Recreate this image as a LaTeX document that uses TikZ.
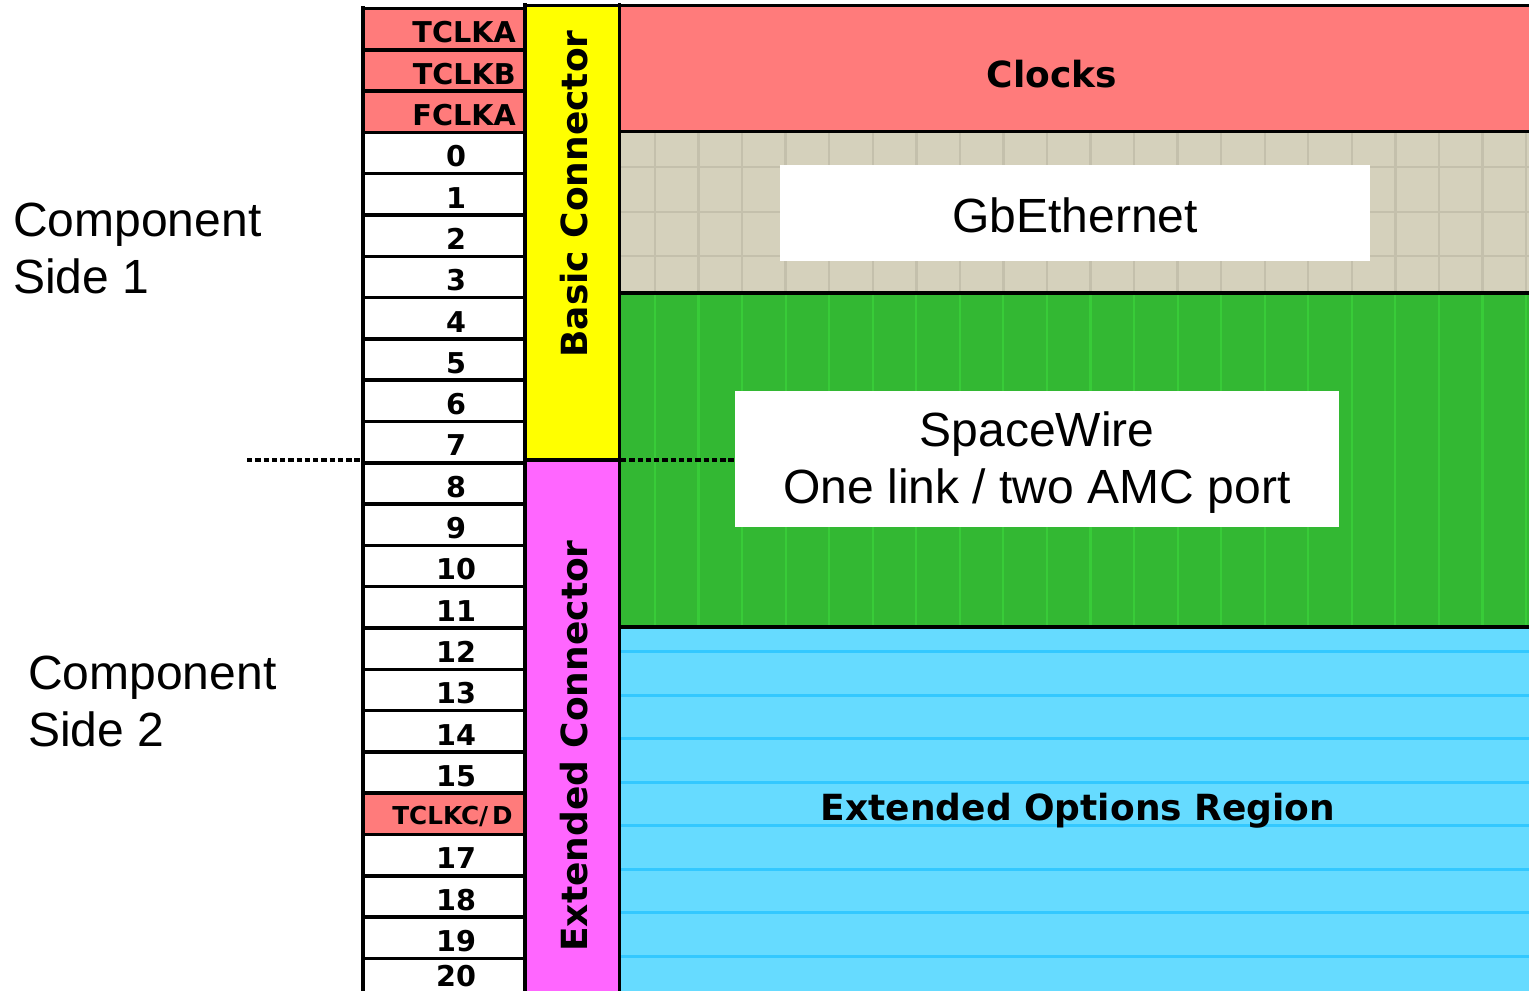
\documentclass[tikz,border=0pt]{standalone}
\usepackage{fontspec}
\setmainfont{Liberation Sans}
\newfontfamily\vfont{DejaVu Sans}
\definecolor{clk}{HTML}{FF7B7B}
\definecolor{beige}{HTML}{D5D1BC}
\definecolor{beigeline}{HTML}{C4C0AC}
\definecolor{grn}{HTML}{33B833}
\definecolor{grnline}{HTML}{38CC38}
\definecolor{blu}{HTML}{66DBFF}
\definecolor{bluline}{HTML}{33C8FF}
\definecolor{yel}{HTML}{FFFF00}
\definecolor{mag}{HTML}{FF66FF}
\newcommand{\tcd}{TCLKC/\,D}
\begin{document}
\begin{tikzpicture}[x=0.75pt,y=-0.75pt,
  border/.style={line width=2.6pt, line cap=rect},
  celltext/.style={font=\vfont\bfseries\fontsize{21.5}{24}\selectfont, inner sep=0pt},
  bigbold/.style={font=\vfont\bfseries\fontsize{27}{32}\selectfont, inner sep=0pt},
  arialtext/.style={font=\fontsize{36}{42.75}\selectfont},
  whitebox/.style={fill=white, inner sep=0pt},
  boxtext/.style={arialtext, align=center, inner sep=0pt},
  sidelabel/.style={arialtext, align=left, inner sep=0pt, anchor=west},
  divider/.style={line width=2.6pt, dash pattern=on 4pt off 2.2pt}]
\useasboundingbox (0,0) rectangle (1529,991);

% region fills
\fill[clk] (620,5) rectangle (1529,131);
\fill[beige] (620,131) rectangle (1529,293);
\fill[grn] (620,293) rectangle (1529,627);
\foreach \k in {0,...,20} {
  \pgfmathsetmacro\xx{655+43.55*\k}
  \draw[beigeline, line width=1.8pt] (\xx,131) -- (\xx,293);
  \draw[grnline, line width=1.6pt] (\xx,293) -- (\xx,627);
}
\foreach \yy in {167,212,256} {
  \draw[beigeline, line width=1.8pt] (620,\yy) -- (1529,\yy);
}
\fill[blu] (620,627) rectangle (1529,991);
\foreach \k in {0,...,7} {
  \pgfmathsetmacro\yy{651.7+43.5*\k}
  \draw[bluline, line width=2pt] (620,\yy) -- (1529,\yy);
}
\fill[yel] (525,5) rectangle (620,460);
\fill[mag] (525,460) rectangle (620,991);

% cell fills
\foreach \col [count=\i from 0] in {clk,clk,clk,white,white,white,white,white,white,white,white,white,white,white,white,white,white,white,white,clk,white,white,white,white} {
  \pgfmathsetmacro\yt{8.5+41.3*\i}
  \fill[\col] (363,\yt) rectangle (525,\yt+41.3);
}
% cell labels
\foreach \lab [count=\i from 0] in {TCLKA,TCLKB,FCLKA} {
  \pgfmathsetmacro\yc{8.5+41.3*\i+24}
  \node[celltext, anchor=east] (l\i) at (516,\yc) {\lab};
}
\node[celltext, anchor=east, font=\vfont\bfseries\fontsize{18.5}{22}\selectfont] (l19) at (513,{8.5+41.3*19+23}) {\tcd};
\foreach \lab [count=\j from 3] in {0,1,2,3,4,5,6,7,8,9,10,11,12,13,14,15} {
  \pgfmathsetmacro\yc{8.5+41.3*\j+24}
  \node[celltext] (l\j) at (456,\yc) {\lab};
}
\foreach \lab [count=\j from 20] in {17,18,19} {
  \pgfmathsetmacro\yc{8.5+41.3*\j+24}
  \node[celltext] (l\j) at (456,\yc) {\lab};
}
\node[celltext] (l23) at (456,{8.5+41.3*23+18}) {20};

% black borders
\foreach \i in {0,...,24} {
  \pgfmathsetmacro\yt{8.5+41.3*\i}
  \draw[border] (363,\yt) -- (525,\yt);
}
\draw[border] (363,8) -- (363,995);
\draw[border] (525,5) -- (525,995);
\draw[border] (619.5,5) -- (619.5,995);
\draw[border] (525,5.5) -- (1535,5.5);
\draw[border] (619.5,131.5) -- (1535,131.5);
\draw[border] (619.5,293) -- (1535,293);
\draw[border] (619.5,627) -- (1535,627);
\draw[border] (525,460) -- (619.5,460);

% region labels
\node[bigbold] (clocks) at (1052,74) {Clocks};
\node[bigbold] (extopt) at (1078,811) {Extended Options Region};
\node[bigbold, rotate=90] (basic) at (574,194) {Basic Connector};
\node[bigbold, rotate=90] (extc) at (574,746) {Extended Connector};
\node[whitebox, minimum width=442.5pt, minimum height=72pt] (gbe) at (1075,213) {};
\node[boxtext] (gbetext) at (1075,215) {GbEthernet};
\node[whitebox, minimum width=453pt, minimum height=102pt] (sw) at (1037,459) {};
\node[boxtext] (swtext) at (1037,463) {SpaceWire\\One link / two AMC port};

\node[sidelabel] (side1) at (13,248) {Component\\Side 1};
\node[sidelabel] (side2) at (28,701) {Component\\Side 2};

% dashed divider
\coordinate (dl) at (247,460);
\coordinate (dm) at (362,460);
\coordinate (dr) at (621,460);
\draw[divider] (dl) -- (dm);
\draw[divider] (dr) -- (sw.west |- dr);
\end{tikzpicture}
\end{document}
